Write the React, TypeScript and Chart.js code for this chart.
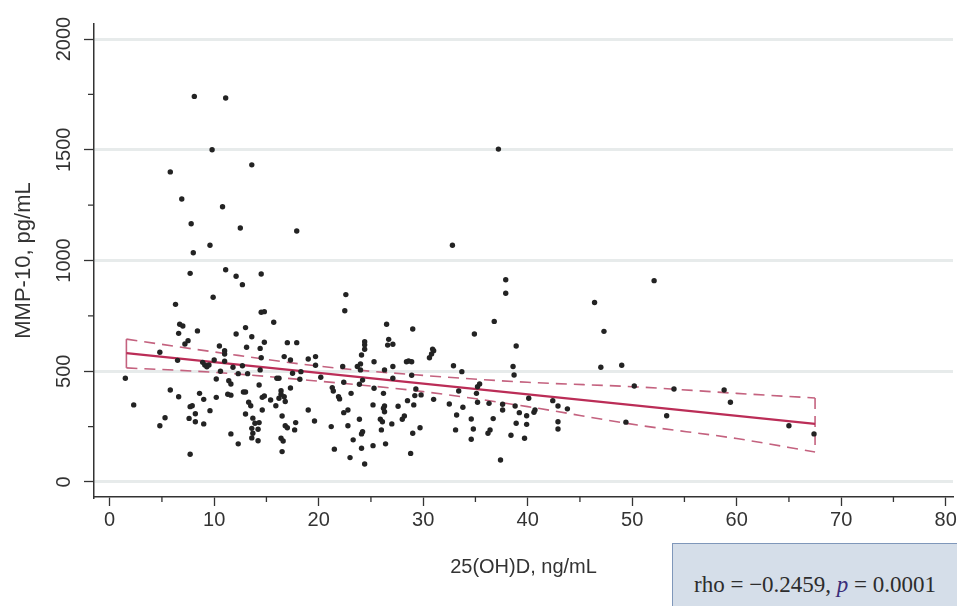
import React, { useEffect, useRef } from "react";
import { Chart, registerables } from "chart.js";

Chart.register(...registerables);

// 25(OH)D (ng/mL) vs MMP-10 (pg/mL), one pair per subject
const scatterPoints: [number, number][] = [
  [8.1, 1741], [11.1, 1734], [9.8, 1500], [13.6, 1432], [5.8, 1400], [6.9, 1278], [10.8, 1243],
  [7.8, 1166], [12.5, 1147], [17.9, 1133], [9.6, 1069], [8.0, 1035], [7.7, 942], [11.1, 958],
  [12.1, 929], [12.7, 891], [14.5, 939], [9.9, 834],
  [37.2, 1503], [32.8, 1069], [37.9, 913], [52.1, 909],
  [6.3, 802], [14.5, 766], [14.8, 769], [6.7, 712], [7.0, 704], [6.6, 671], [8.4, 682], [7.5, 638],
  [7.2, 623], [4.8, 586], [6.5, 549], [1.5, 468], [2.3, 348], [5.8, 415], [6.6, 385], [5.3, 290],
  [4.8, 254], [7.7, 125], [7.7, 340], [7.9, 344], [8.2, 308], [7.6, 287], [8.2, 272], [9.0, 262],
  [8.6, 400], [9.0, 373], [9.6, 322], [10.2, 382], [10.2, 465], [8.9, 540], [9.1, 528], [9.3, 520],
  [9.5, 528], [10.0, 551], [10.5, 614], [11.0, 593], [11.0, 578], [11.0, 545], [10.6, 500],
  [11.3, 396], [11.6, 392], [11.4, 457], [11.6, 442], [11.8, 518], [12.1, 668], [13.0, 697], [13.6, 656],
  [13.1, 608], [12.7, 525], [12.3, 489], [13.2, 489], [12.8, 406], [13.0, 406], [13.3, 360],
  [13.5, 344], [13.0, 307], [13.7, 288], [13.9, 265], [13.6, 242], [13.7, 220], [13.6, 199],
  [14.2, 186], [12.3, 172], [11.6, 217], [14.3, 438], [14.8, 631], [14.4, 603], [14.5, 561],
  [14.4, 506], [14.6, 382], [14.8, 388], [14.6, 325], [14.3, 268], [14.2, 238],
  [22.6, 846], [22.5, 773], [15.7, 721], [17.0, 629], [17.9, 629], [16.7, 566], [17.3, 551],
  [17.5, 491], [18.3, 498], [16.0, 468], [16.2, 468], [18.2, 464], [19.0, 555], [19.7, 566],
  [19.7, 527], [20.2, 473], [17.3, 424], [16.4, 412], [16.4, 396], [16.7, 385], [16.2, 378],
  [15.4, 370], [16.8, 363], [15.9, 344], [16.5, 298], [16.8, 254], [17.0, 245], [17.8, 268],
  [17.7, 235], [16.4, 197], [16.6, 185], [16.5, 137], [19.0, 325], [19.6, 275], [21.3, 426],
  [21.4, 411], [21.9, 385], [22.0, 375], [22.4, 450], [22.3, 521], [23.1, 400], [22.4, 313],
  [22.8, 325], [21.2, 250], [22.8, 254], [21.5, 148], [23.0, 110], [24.4, 81], [24.1, 152],
  [23.3, 190], [24.2, 227], [24.1, 217], [23.9, 283], [24.2, 460], [23.9, 441], [24.0, 506],
  [23.7, 521], [24.0, 533], [24.1, 573], [24.4, 599], [24.4, 619], [24.4, 633], [25.3, 543],
  [25.3, 423], [26.3, 506], [27.1, 521], [27.1, 468], [26.2, 400], [26.3, 343], [26.2, 333],
  [26.3, 317], [25.2, 348], [25.9, 283], [26.1, 272], [25.2, 164], [26.4, 172], [26.0, 235],
  [27.0, 262], [27.6, 342], [28.2, 298], [28.0, 283], [28.8, 129], [29.7, 245], [29.0, 220],
  [29.1, 348], [28.5, 367], [29.3, 420], [29.2, 390], [29.8, 393], [28.9, 482], [28.9, 543],
  [28.4, 543], [28.6, 546], [27.1, 622], [26.7, 644], [26.6, 618], [26.5, 712], [29.0, 691],
  [37.9, 852], [36.8, 725], [34.9, 668], [38.9, 614], [30.9, 600], [31.0, 593], [30.8, 578],
  [30.6, 561], [32.9, 525], [33.7, 498], [38.6, 521], [38.7, 483], [35.4, 442], [35.2, 430],
  [33.4, 411], [35.1, 400], [31.0, 373], [32.5, 352], [33.8, 337], [33.2, 302], [35.2, 360],
  [36.3, 355], [37.6, 351], [37.6, 325], [34.6, 284], [36.7, 286], [33.1, 235], [34.8, 239],
  [36.4, 235], [36.2, 220], [34.6, 193], [37.4, 99], [38.4, 211], [39.7, 197], [38.9, 265],
  [39.9, 260], [38.8, 343], [39.2, 313], [39.9, 299], [40.6, 315], [40.7, 325], [40.1, 378],
  [42.4, 367], [42.9, 343], [43.8, 330], [42.9, 272], [42.9, 239],
  [46.4, 810], [47.3, 680], [47.0, 518], [49.0, 527], [49.4, 270], [50.2, 433], [54.0, 420],
  [58.8, 415], [59.4, 360], [53.3, 299], [65.0, 254], [67.4, 217],
];

// linear fit and its 95% confidence band
const fitX = [1.6, 67.5];
const fitY = [582, 262];
const ciX = [1.6, 10, 20, 30, 40, 50.5, 60, 67.5];
const ciUpper = [645, 587, 523, 481, 450, 429, 400, 379];
const ciLower = [515, 495, 455, 408, 340, 257, 196, 135];

const xTicks = [0, 10, 20, 30, 40, 50, 60, 70, 80];
const yTicks = [0, 500, 1000, 1500, 2000];
const xMinorTicks = [5, 15, 25, 35, 45, 55, 65, 75];
const yMinorTicks = [250, 750, 1250, 1750];

const xTitle = "25(OH)D, ng/mL";
const yTitle = "MMP-10, pg/mL";

const SANS = "'Liberation Sans', Arial, sans-serif";
const AXIS = "#333333";
const FIT = "#bb2d57";
const CI = "#c4627f";

const minorTicksPlugin = {
  id: "minorTicks",
  afterDraw(chart: any) {
    const { ctx, chartArea } = chart;
    const x = chart.scales.x;
    const y = chart.scales.y;
    ctx.save();
    ctx.strokeStyle = AXIS;
    ctx.lineWidth = 1.3;
    ctx.beginPath();
    xMinorTicks.forEach((v) => {
      const px = x.getPixelForValue(v);
      ctx.moveTo(px, chartArea.bottom);
      ctx.lineTo(px, chartArea.bottom + 5);
    });
    yMinorTicks.forEach((v) => {
      const py = y.getPixelForValue(v);
      ctx.moveTo(chartArea.left, py);
      ctx.lineTo(chartArea.left - 6, py);
    });
    ctx.stroke();
    ctx.restore();
  },
};

export default function App() {
  const canvasRef = useRef<HTMLCanvasElement | null>(null);

  useEffect(() => {
    if (!canvasRef.current) return;
    const lineBase = { pointRadius: 0, pointHoverRadius: 0, fill: false, order: 1 };
    const chart = new Chart(canvasRef.current, {
      type: "scatter",
      data: {
        datasets: [
          {
            type: "scatter",
            label: "MMP-10",
            data: scatterPoints.map(([x, y]) => ({ x, y })),
            pointRadius: 2.7,
            pointBackgroundColor: "#232323",
            pointBorderWidth: 0,
            order: 0,
          } as any,
          {
            ...lineBase,
            type: "line",
            label: "Fit",
            data: fitX.map((x, i) => ({ x, y: fitY[i] })),
            borderColor: FIT,
            borderWidth: 2.3,
          } as any,
          {
            ...lineBase,
            type: "line",
            label: "95% CI upper",
            data: ciX.map((x, i) => ({ x, y: ciUpper[i] })),
            borderColor: CI,
            borderWidth: 1.6,
            borderDash: [11, 7],
            cubicInterpolationMode: "monotone",
          } as any,
          {
            ...lineBase,
            type: "line",
            label: "95% CI lower",
            data: ciX.map((x, i) => ({ x, y: ciLower[i] })),
            borderColor: CI,
            borderWidth: 1.6,
            borderDash: [11, 7],
            cubicInterpolationMode: "monotone",
          } as any,
          {
            ...lineBase,
            type: "line",
            label: "CI end right",
            data: [
              { x: ciX[ciX.length - 1], y: ciUpper[ciUpper.length - 1] },
              { x: ciX[ciX.length - 1], y: ciLower[ciLower.length - 1] },
            ],
            borderColor: CI,
            borderWidth: 1.6,
            borderDash: [11, 7],
          } as any,
          {
            ...lineBase,
            type: "line",
            label: "CI end left",
            data: [
              { x: ciX[0], y: ciLower[0] },
              { x: ciX[0], y: ciUpper[0] },
            ],
            borderColor: CI,
            borderWidth: 1.6,
          } as any,
        ],
      },
      options: {
        animation: false,
        responsive: false,
        events: [],
        layout: { padding: { top: 24, right: 0, bottom: 0, left: 0 } },
        plugins: {
          legend: { display: false },
          tooltip: { enabled: false },
        },
        scales: {
          x: {
            type: "linear",
            min: -1.5,
            max: 80.7,
            afterBuildTicks(scale: any) {
              scale.ticks = xTicks.map((value) => ({ value }));
            },
            ticks: {
              autoSkip: false,
              maxRotation: 0,
              padding: 2,
              color: AXIS,
              font: { family: SANS, size: 20 },
              callback: (v: any) => String(v),
            },
            grid: {
              drawOnChartArea: false,
              tickLength: 9,
              tickColor: AXIS,
              tickWidth: 1.3,
            },
            border: { color: AXIS, width: 1.5 },
            title: {
              display: true,
              text: xTitle,
              color: AXIS,
              font: { family: SANS, size: 20 },
              padding: { top: 0, bottom: 27 },
            },
            afterFit(scale: any) {
              scale.height = 109;
              scale.paddingLeft = 0;
              scale.paddingRight = 0;
            },
          },
          y: {
            type: "linear",
            min: -68,
            max: 2068,
            afterBuildTicks(scale: any) {
              scale.ticks = yTicks.map((value) => ({ value }));
            },
            ticks: {
              autoSkip: false,
              minRotation: 90,
              maxRotation: 90,
              crossAlign: "center",
              padding: -3,
              color: AXIS,
              font: { family: SANS, size: 20 },
              callback: (v: any) => String(v),
            },
            grid: {
              color: "#e7ebeb",
              lineWidth: 3,
              tickLength: 10,
              tickColor: AXIS,
              tickWidth: 1.3,
            },
            border: { color: AXIS, width: 1.5 },
            title: {
              display: true,
              text: yTitle,
              color: AXIS,
              font: { family: SANS, size: 22 },
              padding: { top: 11, bottom: 0 },
            },
            afterFit(scale: any) {
              scale.width = 94;
              scale.paddingTop = 0;
              scale.paddingBottom = 0;
            },
          },
        },
      } as any,
      plugins: [minorTicksPlugin],
    });
    return () => chart.destroy();
  }, []);

  return (
    <div
      style={{
        position: "fixed",
        left: 0,
        top: 0,
        width: 957,
        height: 606,
        overflow: "hidden",
        background: "#ffffff",
      }}
    >
      <canvas
        ref={canvasRef}
        width={957}
        height={606}
        style={{ display: "block", width: 957, height: 606 }}
      />
      <div
        style={{
          position: "absolute",
          left: 672,
          top: 543,
          width: 300,
          height: 84,
          boxSizing: "border-box",
          background: "#d5dee9",
          border: "1.5px solid #7f97ba",
          display: "flex",
          alignItems: "center",
          paddingLeft: 21,
          fontFamily: "'Liberation Serif', 'Times New Roman', serif",
          fontSize: 23,
          color: "#2d2d2d",
          whiteSpace: "nowrap",
        }}
      >
        <span>
          rho = −0.2459, <i style={{ color: "#3b2f7a" }}>p</i> = 0.0001
        </span>
      </div>
    </div>
  );
}
